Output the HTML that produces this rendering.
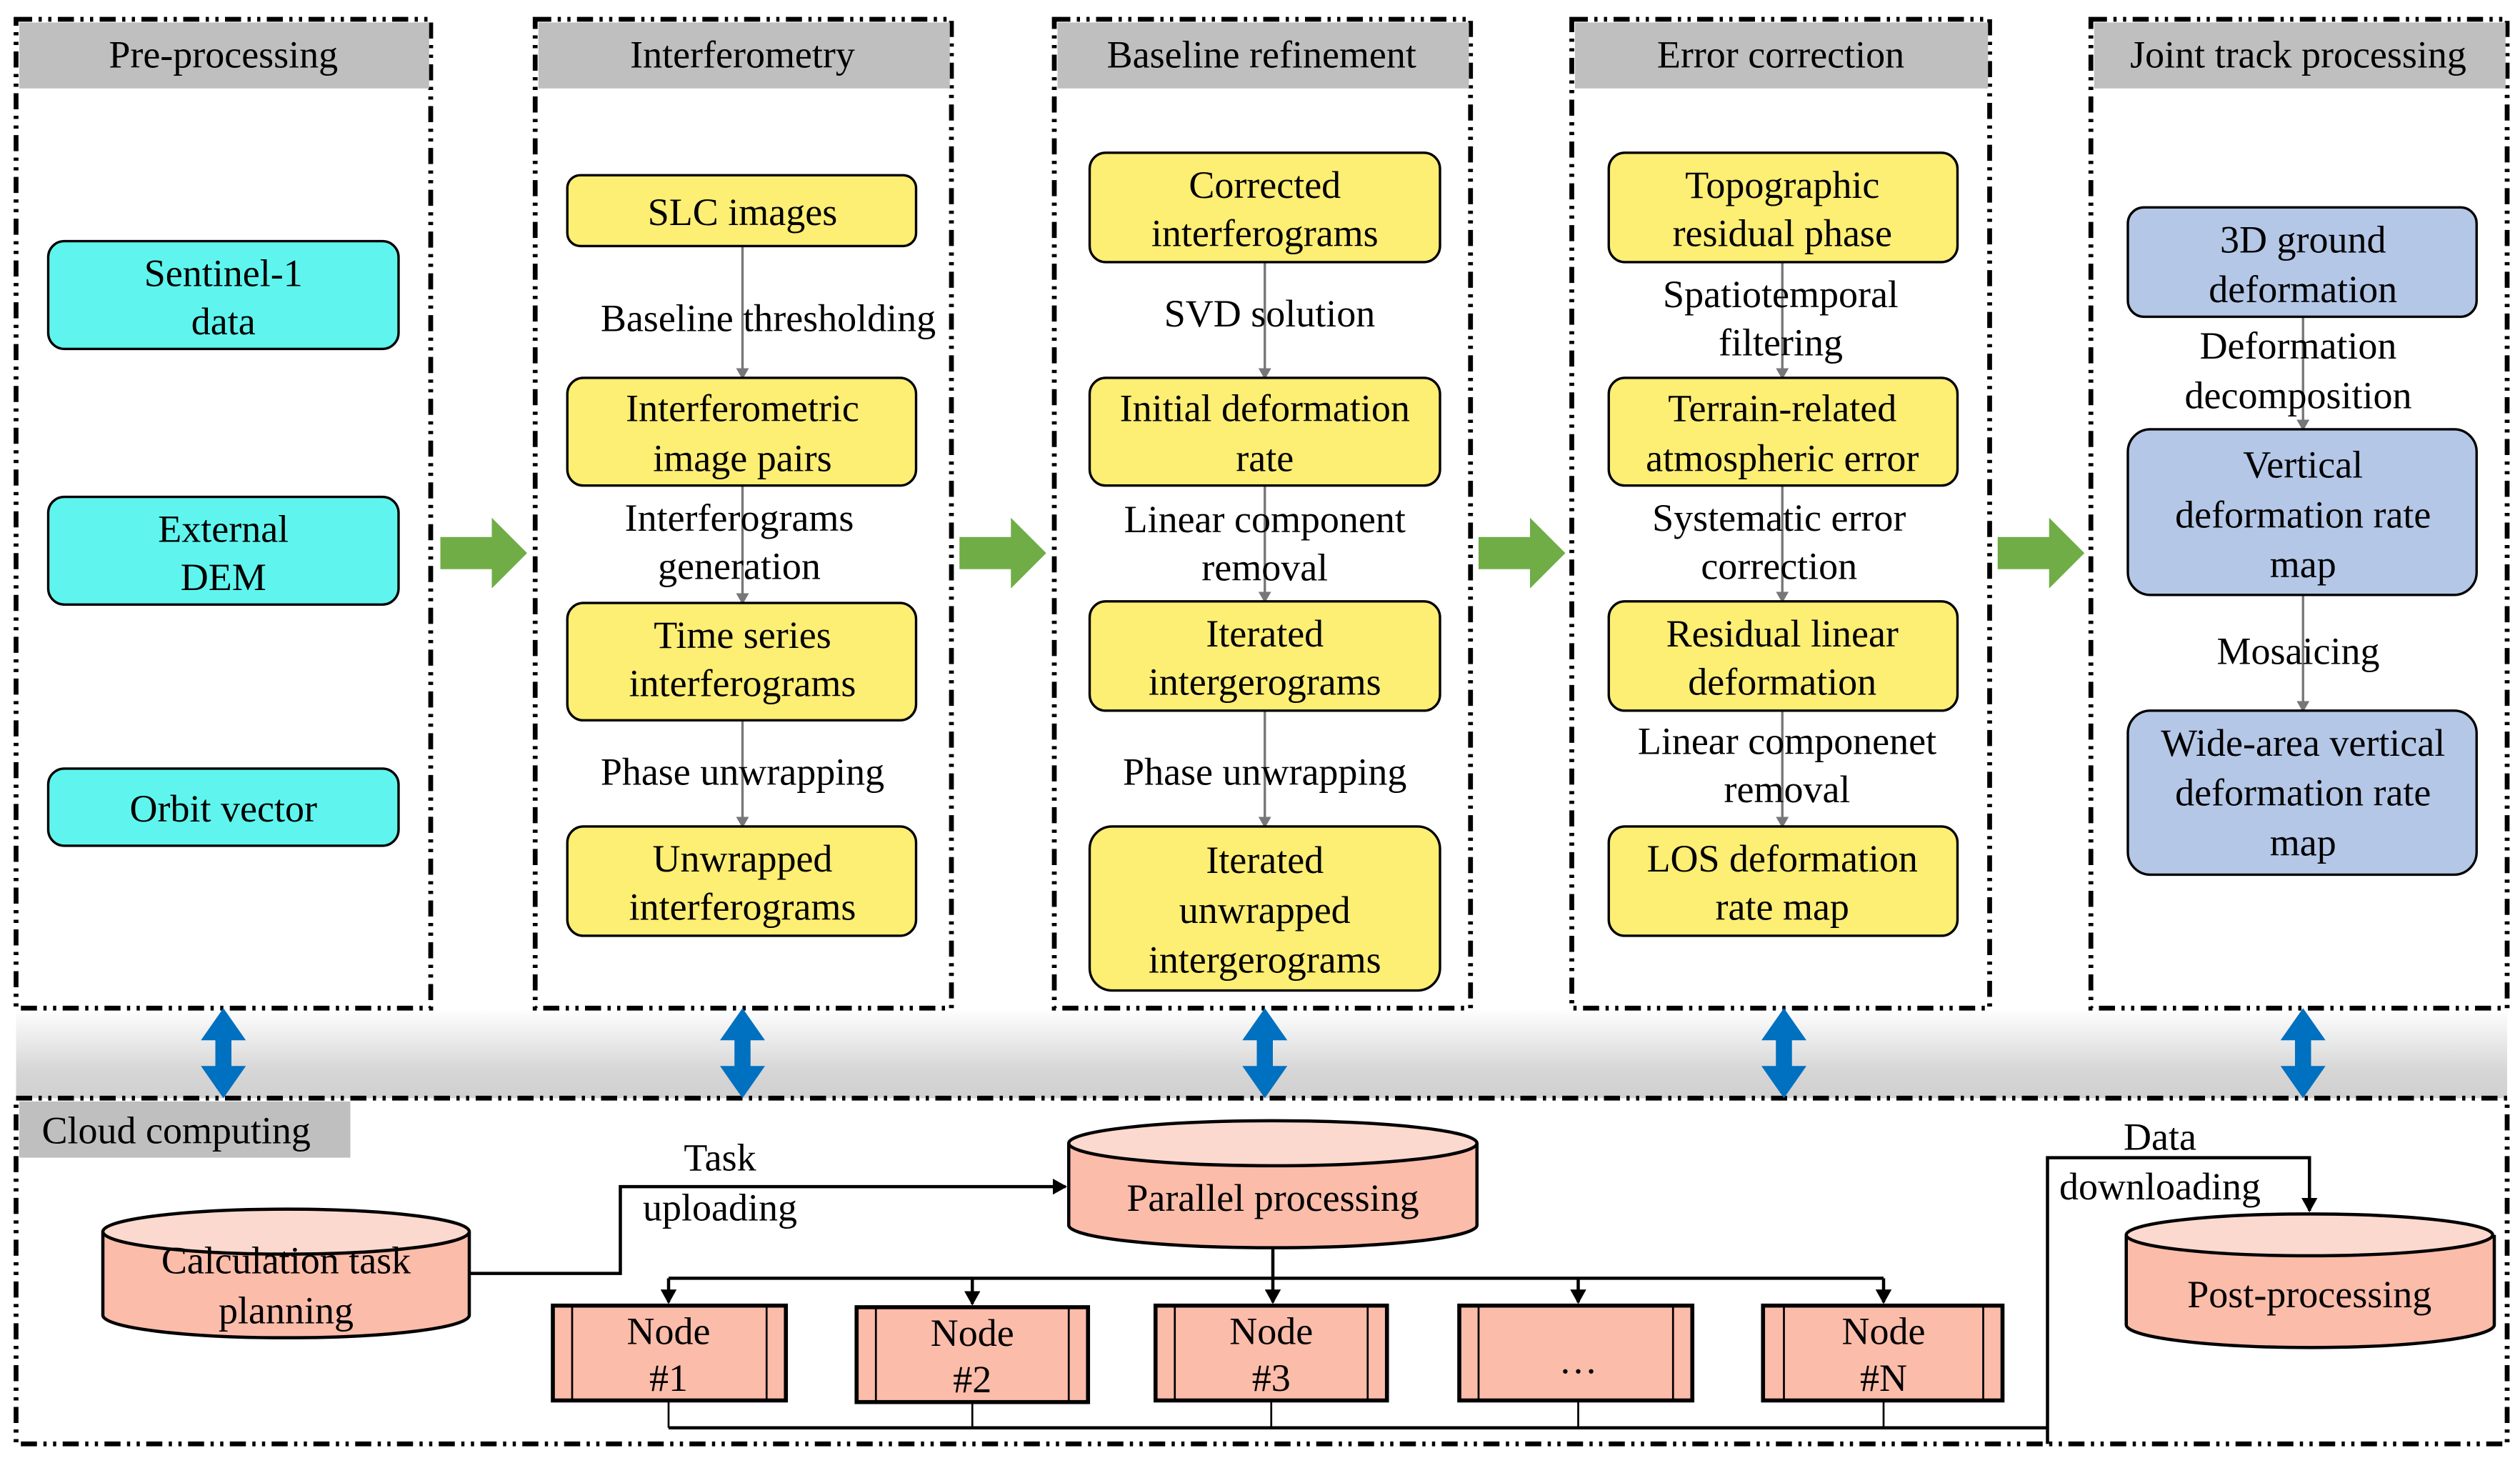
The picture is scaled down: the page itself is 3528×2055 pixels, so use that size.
<!DOCTYPE html>
<html><head><meta charset="utf-8"><style>html,body{margin:0;padding:0;background:#fff}svg{display:block}svg text{font-family:"Liberation Serif","Times New Roman",serif}</style></head><body>
<svg width="3528" height="2055" viewBox="0 0 1568 913" preserveAspectRatio="none" xmlns="http://www.w3.org/2000/svg" style="font-family:'Liberation Serif',serif" font-size="23">
<defs>
<linearGradient id="g" x1="0" y1="0" x2="0" y2="1"><stop offset="0" stop-color="#fff"/><stop offset="0.7" stop-color="#d6d6d6"/><stop offset="1" stop-color="#d0d0d0"/></linearGradient>
<marker id="ah" markerWidth="10" markerHeight="10" refX="8" refY="5" orient="auto" markerUnits="userSpaceOnUse"><path d="M0,0 L9,5 L0,10 z" fill="#000"/></marker>
<marker id="ag" markerWidth="8" markerHeight="8" refX="6" refY="4" orient="auto" markerUnits="userSpaceOnUse"><path d="M0,0 L7,4 L0,8 z" fill="#777"/></marker>
<g id="garrow"><path d="M0,-10 L32,-10 L32,-22 L54,0 L32,22 L32,10 L0,10 z" fill="#70ad47"/></g>
<g id="barrow"><path d="M0,-28 L-14,-8 L-5,-8 L-5,8 L-14,8 L0,28 L14,8 L5,8 L5,-8 L14,-8 z" fill="#0070c0"/></g>
</defs>
<rect x="10" y="627" width="1550" height="56" fill="url(#g)"/>
<g fill="none" stroke="#000" stroke-width="3" stroke-dasharray="10 4 2 4 2 4">
<rect x="10" y="12" width="258" height="615"/>
<rect x="333" y="12" width="259" height="615"/>
<rect x="656" y="12" width="259" height="615"/>
<rect x="978" y="12" width="260" height="615"/>
<rect x="1301" y="12" width="259" height="615"/>
<rect x="10" y="683" width="1550" height="215"/>
</g>
<g fill="#bfbfbf">
<rect x="12" y="14" width="255" height="41"/><rect x="335" y="14" width="256" height="41"/><rect x="658" y="14" width="256" height="41"/><rect x="980" y="14" width="257" height="41"/><rect x="1303" y="14" width="256" height="41"/>
<rect x="12" y="685" width="206" height="35"/>
</g>
<g text-anchor="middle" font-size="24">
<text x="139" y="42">Pre-processing</text><text x="462" y="42">Interferometry</text><text x="785" y="42">Baseline refinement</text><text x="1108" y="42">Error correction</text><text x="1430" y="42">Joint track processing</text>
</g>
<text x="26" y="711" font-size="24">Cloud computing</text>
<g stroke="#777" stroke-width="1.5" marker-end="url(#ag)">
<line x1="462" y1="153" x2="462" y2="235"/><line x1="462" y1="302" x2="462" y2="375"/><line x1="462" y1="448" x2="462" y2="514"/>
<line x1="787" y1="163" x2="787" y2="235"/><line x1="787" y1="302" x2="787" y2="374"/><line x1="787" y1="442" x2="787" y2="514"/>
<line x1="1109" y1="163" x2="1109" y2="235"/><line x1="1109" y1="302" x2="1109" y2="374"/><line x1="1109" y1="442" x2="1109" y2="514"/>
<line x1="1433" y1="197" x2="1433" y2="267"/><line x1="1433" y1="370" x2="1433" y2="442"/>
</g>
<g stroke="#000" stroke-width="1.5">
<rect x="30" y="150" width="218" height="67" rx="10" fill="#5ff5ee"/>
<rect x="30" y="309" width="218" height="67" rx="10" fill="#5ff5ee"/>
<rect x="30" y="478" width="218" height="48" rx="10" fill="#5ff5ee"/>
<g fill="#fdee74">
<rect x="353" y="109" width="217" height="44" rx="8"/><rect x="353" y="235" width="217" height="67" rx="10"/><rect x="353" y="375" width="217" height="73" rx="10"/><rect x="353" y="514" width="217" height="68" rx="10"/>
<rect x="678" y="95" width="218" height="68" rx="10"/><rect x="678" y="235" width="218" height="67" rx="10"/><rect x="678" y="374" width="218" height="68" rx="10"/><rect x="678" y="514" width="218" height="102" rx="14"/>
<rect x="1001" y="95" width="217" height="68" rx="10"/><rect x="1001" y="235" width="217" height="67" rx="10"/><rect x="1001" y="374" width="217" height="68" rx="10"/><rect x="1001" y="514" width="217" height="68" rx="10"/>
</g>
<g fill="#b4c7e7">
<rect x="1324" y="129" width="217" height="68" rx="10"/><rect x="1324" y="267" width="217" height="103" rx="14"/><rect x="1324" y="442" width="217" height="102" rx="14"/>
</g>
</g>
<g text-anchor="middle" font-size="24">
<text x="139" y="178">Sentinel-1</text><text x="139" y="208">data</text>
<text x="139" y="337">External</text><text x="139" y="367">DEM</text>
<text x="139" y="511">Orbit vector</text>
<text x="462" y="140">SLC images</text>
<text x="462" y="262">Interferometric</text><text x="462" y="293">image pairs</text>
<text x="462" y="403">Time series</text><text x="462" y="433">interferograms</text>
<text x="462" y="542">Unwrapped</text><text x="462" y="572">interferograms</text>
<text x="478" y="206">Baseline thresholding</text>
<text x="460" y="330">Interferograms</text><text x="460" y="360">generation</text>
<text x="462" y="488">Phase unwrapping</text>
<text x="787" y="123">Corrected</text><text x="787" y="153">interferograms</text>
<text x="787" y="262">Initial deformation</text><text x="787" y="293">rate</text>
<text x="787" y="402">Iterated</text><text x="787" y="432">intergerograms</text>
<text x="787" y="543">Iterated</text><text x="787" y="574">unwrapped</text><text x="787" y="605">intergerograms</text>
<text x="790" y="203">SVD solution</text>
<text x="787" y="331">Linear component</text><text x="787" y="361">removal</text>
<text x="787" y="488">Phase unwrapping</text>
<text x="1109" y="123">Topographic</text><text x="1109" y="153">residual phase</text>
<text x="1109" y="262">Terrain-related</text><text x="1109" y="293">atmospheric error</text>
<text x="1109" y="402">Residual linear</text><text x="1109" y="432">deformation</text>
<text x="1109" y="542">LOS deformation</text><text x="1109" y="572">rate map</text>
<text x="1108" y="191">Spatiotemporal</text><text x="1108" y="221">filtering</text>
<text x="1107" y="330">Systematic error</text><text x="1107" y="360">correction</text>
<text x="1112" y="469">Linear componenet</text><text x="1112" y="499">removal</text>
<text x="1433" y="157">3D ground</text><text x="1433" y="188">deformation</text>
<text x="1433" y="297">Vertical</text><text x="1433" y="328">deformation rate</text><text x="1433" y="359">map</text>
<text x="1433" y="470">Wide-area vertical</text><text x="1433" y="501">deformation rate</text><text x="1433" y="532">map</text>
<text x="1430" y="223">Deformation</text><text x="1430" y="254">decomposition</text>
<text x="1430" y="413">Mosaicing</text>
</g>
<use href="#garrow" x="274" y="344"/><use href="#garrow" x="597" y="344"/><use href="#garrow" x="920" y="344"/><use href="#garrow" x="1243" y="344"/>
<use href="#barrow" x="139" y="655"/><use href="#barrow" x="462" y="655"/><use href="#barrow" x="787" y="655"/><use href="#barrow" x="1110" y="655"/><use href="#barrow" x="1433" y="655"/>
<g stroke="#000" stroke-width="2">
<path d="M64,766 L64,818 A114,14 0 0 0 292,818 L292,766" fill="#fbbcaa"/><ellipse cx="178" cy="766" rx="114" ry="14" fill="#fcd9cf"/>
<path d="M665,711 L665,762 A127,14 0 0 0 919,762 L919,711" fill="#fbbcaa"/><ellipse cx="792" cy="711" rx="127" ry="14" fill="#fcd9cf"/>
<path d="M1323,768 L1323,824 A114,14 0 0 0 1552,824 L1552,768" fill="#fbbcaa"/><ellipse cx="1437" cy="768" rx="114" ry="13" fill="#fcd9cf"/>
</g>
<g text-anchor="middle" font-size="24">
<text x="178" y="792">Calculation task</text><text x="178" y="823">planning</text>
<text x="792" y="753">Parallel processing</text>
<text x="1437" y="813">Post-processing</text>
<text x="448" y="728">Task</text><text x="448" y="759">uploading</text>
<text x="1344" y="715">Data</text><text x="1344" y="746">downloading</text>
</g>
<g stroke="#000" fill="#fbbcaa">
<rect x="344" y="812" width="145" height="59" stroke-width="2.5"/><rect x="533" y="813" width="144" height="59" stroke-width="2.5"/><rect x="719" y="812" width="144" height="59" stroke-width="2.5"/><rect x="908" y="812" width="145" height="59" stroke-width="2.5"/><rect x="1097" y="812" width="149" height="59" stroke-width="2.5"/>
<g stroke-width="1.2">
<line x1="356" y1="812" x2="356" y2="871"/><line x1="477" y1="812" x2="477" y2="871"/>
<line x1="545" y1="813" x2="545" y2="872"/><line x1="665" y1="813" x2="665" y2="872"/>
<line x1="731" y1="812" x2="731" y2="871"/><line x1="851" y1="812" x2="851" y2="871"/>
<line x1="920" y1="812" x2="920" y2="871"/><line x1="1041" y1="812" x2="1041" y2="871"/>
<line x1="1110" y1="812" x2="1110" y2="871"/><line x1="1234" y1="812" x2="1234" y2="871"/>
</g>
</g>
<g text-anchor="middle" font-size="24">
<text x="416" y="836">Node</text><text x="416" y="865">#1</text>
<text x="605" y="837">Node</text><text x="605" y="866">#2</text>
<text x="791" y="836">Node</text><text x="791" y="865">#3</text>
<text x="982" y="854">…</text>
<text x="1172" y="836">Node</text><text x="1172" y="865">#N</text>
</g>
<g fill="none" stroke="#000" stroke-width="2">
<polyline points="292,792 386,792 386,738 663,738" marker-end="url(#ah)"/>
<line x1="792" y1="776" x2="792" y2="795"/>
<line x1="416" y1="795" x2="1172" y2="795"/>
<line x1="416" y1="795" x2="416" y2="810" marker-end="url(#ah)"/><line x1="605" y1="795" x2="605" y2="811" marker-end="url(#ah)"/><line x1="792" y1="795" x2="792" y2="810" marker-end="url(#ah)"/><line x1="982" y1="795" x2="982" y2="810" marker-end="url(#ah)"/><line x1="1172" y1="795" x2="1172" y2="810" marker-end="url(#ah)"/>
<line x1="416" y1="888" x2="1274" y2="888"/>
<polyline points="1274,898 1274,720 1437,720 1437,753" marker-end="url(#ah)"/>
</g>
<g stroke="#000" stroke-width="1.2">
<line x1="416" y1="871" x2="416" y2="888"/><line x1="605" y1="872" x2="605" y2="888"/><line x1="791" y1="871" x2="791" y2="888"/><line x1="982" y1="871" x2="982" y2="888"/><line x1="1172" y1="871" x2="1172" y2="888"/>
</g>
</svg>
</body></html>
